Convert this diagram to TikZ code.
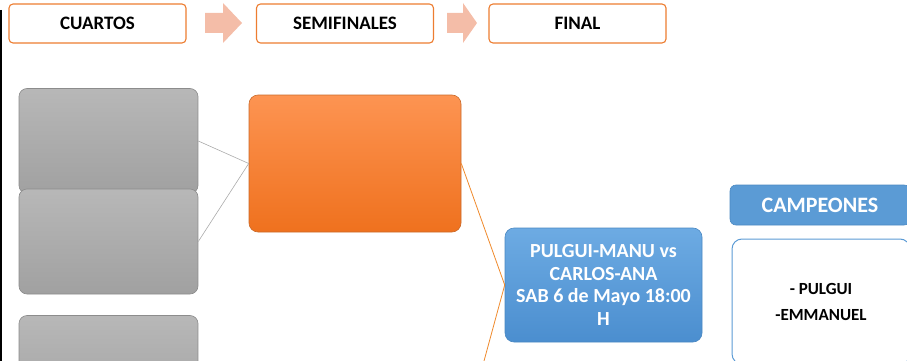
\documentclass[tikz,border=0pt]{standalone}
\usepackage{fontspec}
\setmainfont{Carlito}

\definecolor{naranja}{HTML}{ED7D31}
\definecolor{salmon}{HTML}{F4BDA8}
\definecolor{azul}{HTML}{5B9BD5}
\definecolor{azulborde}{HTML}{4A88C2}
\definecolor{grisborde}{HTML}{8C8C8C}
\definecolor{grislinea}{HTML}{ABABAB}
\definecolor{naranjaalto}{HTML}{FD9452}
\definecolor{naranjabajo}{HTML}{EF711E}
\definecolor{azulalto}{HTML}{6DABE3}
\definecolor{azulbajo}{HTML}{4B8ECF}

\tikzset{
  etapa/.style={draw=naranja, line width=1.1pt, fill=white, rounded corners=4pt,
    minimum width=177pt, minimum height=39pt, inner sep=0pt,
    font=\bfseries\fontsize{19}{22}\selectfont},
  flecha/.style={fill=salmon},
  cuarto/.style={draw=grisborde, line width=0.6pt, rounded corners=8pt,
    top color=black!28, bottom color=black!37, minimum width=179pt, minimum height=105pt},
  semi/.style={draw=naranja!85!black, line width=0.6pt, rounded corners=9pt,
    top color=naranjaalto, bottom color=naranjabajo,
    minimum width=212pt, minimum height=137pt},
  partido/.style={draw=azulborde, line width=0.6pt, rounded corners=9pt,
    top color=azulalto, bottom color=azulbajo,
    minimum width=197pt, minimum height=114pt, text=white, align=center,
    font=\bfseries\fontsize{20}{22.5}\selectfont},
  titulo/.style={draw=azulborde, line width=0.6pt, fill=azul, rounded corners=6pt,
    minimum width=180pt, minimum height=40pt, text=white,
    font=\bfseries\fontsize{22}{24}\selectfont},
  ganadores/.style={draw=azul, line width=1pt, fill=white, rounded corners=10pt,
    minimum width=178pt, minimum height=125pt, align=center,
    font=\bfseries\fontsize{17}{20}\selectfont},
  rama/.style={draw=grislinea, line width=0.6pt},
  ramafinal/.style={draw=naranja!90!yellow, line width=0.8pt}
}

\begin{document}
\begin{tikzpicture}[x=1pt, y=-1pt]

  \useasboundingbox (0,0) rectangle (907,361);
  \clip (0,0) rectangle (907,361);

  \draw [line width=1.5pt] (1,10) -- (1,361);

  % cabecera
  \node (cuartos) [etapa] at (97.5,23.5) {CUARTOS};
  \node (semis) [etapa] at (345,23.5) {SEMIFINALES};
  \node (final) [etapa] at (577.5,23.5) {FINAL};
  \fill [flecha] (205,13) -- (223,13) -- (223,3) -- (242,23)
    -- (223,43) -- (223,33) -- (205,33) -- cycle;
  \fill [flecha] (447,13) -- (463,13) -- (463,3) -- (477,23)
    -- (463,43) -- (463,33) -- (447,33) -- cycle;

  % cuartos
  \node (q1) [cuarto] at (108.5,141) {};
  \node (q2) [cuarto] at (108.5,241.5) {};
  \node (q3) [cuarto] at (108.5,368) {};

  % semifinal
  \node (s1) [semi] at (355,163.5) {};
  \coordinate (s2) at (484,361);

  % final
  \node (f) [partido] at (603.5,285)
    {PULGUI-MANU vs\\CARLOS-ANA\\SAB 6 de Mayo 18:00\\H};

  \node (camp) [titulo] at (820,205) {CAMPEONES};
  \node (ganan) [ganadores] at (821,301.5) {- PULGUI\\[6pt]-EMMANUEL};

  \draw [rama] (q1.east) -- (s1.west);
  \draw [rama] (q2.east) -- (s1.west);
  \draw [ramafinal] (s1.east) -- (f.west);
  \draw [ramafinal] (f.west) -- (s2);

\end{tikzpicture}
\end{document}
